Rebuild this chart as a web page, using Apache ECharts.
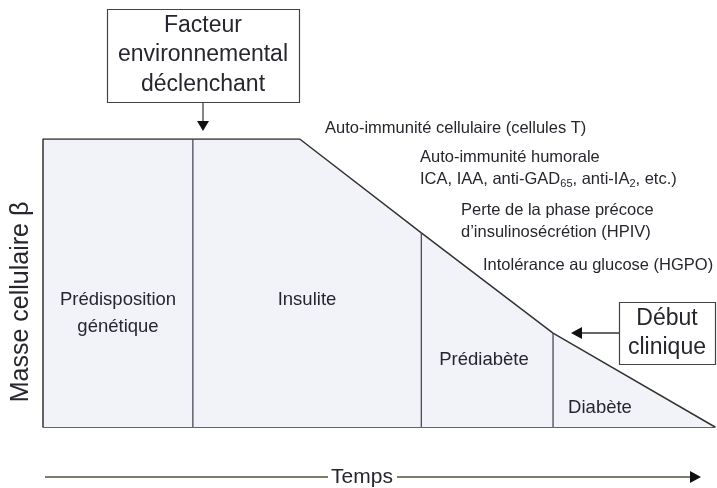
<!DOCTYPE html>
<html>
<head>
<meta charset="utf-8">
<script src="https://cdn.jsdelivr.net/npm/echarts@6/dist/echarts.min.js"></script>
<style>
  html, body { margin: 0; padding: 0; background: #fff; }
  #chart { width: 717px; height: 488px; }
</style>
</head>
<body>
<div id="chart"></div>
<script>
// time axis (arbitrary units 0..100) and beta-cell mass (% of initial)
const timePoints = [0, 22.3, 38.2, 56.3, 75.9, 100];
const betaMass = [100, 100, 100, 67.4, 32.6, 0];
// indices in timePoints where a stage starts
const stageStartIdx = [1, 3, 4];
const stageNames = ['Prédisposition\ngénétique', 'Insulite', 'Prédiabète', 'Diabète'];

const annotations = [
  'Auto-immunité cellulaire (cellules T)',
  'Auto-immunité humorale',
  'ICA, IAA, anti-GAD{sub|65}, anti-IA{sub|2}, etc.)',
  'Perte de la phase précoce',
  'd’insulinosécrétion (HPIV)',
  'Intolérance au glucose (HGPO)'
];

const FONT = '"Liberation Sans", Arial, Helvetica, sans-serif';
const INK = '#26262e';

const chart = echarts.init(document.getElementById('chart'));

const outline = [[timePoints[0], 0]].concat(timePoints.map((t, i) => [t, betaMass[i]]));

const dividers = stageStartIdx.map(i => ({
  type: 'line',
  silent: true,
  symbol: 'none',
  data: [[timePoints[i], 0], [timePoints[i], betaMass[i]]],
  lineStyle: { color: '#4a4a5a', width: 1.3 },
  z: 3
}));

// text positions (pixels)
const stagePos = [[118, 313], [307, 300], [484, 360], [600, 408]];
const notePos = [[325, 128], [420, 157], [420, 179], [461, 210], [461, 232], [483, 265]];

const txt = (text, x, y, size, align, extra) => ({
  type: 'text',
  z: 100,
  x: x, y: y,
  style: Object.assign({
    text: text,
    fill: INK,
    fontFamily: FONT,
    fontSize: size,
    align: align || 'center',
    verticalAlign: 'middle'
  }, extra || {})
});

const graphics = [
  // trigger box + arrow
  { type: 'rect', z: 100, shape: { x: 107.5, y: 9.5, width: 192, height: 93 },
    style: { fill: '#fff', stroke: '#444', lineWidth: 1.2 } },
  txt('Facteur\nenvironnemental\ndéclenchant', 203, 55, 23, 'center', { lineHeight: 29.5 }),
  { type: 'line', z: 100, shape: { x1: 203, y1: 102, x2: 203, y2: 122 }, style: { stroke: '#444', lineWidth: 1.3 } },
  { type: 'polygon', z: 100, shape: { points: [[197, 121], [209, 121], [203, 131]] }, style: { fill: '#111' } },

  // clinical onset box + arrow
  { type: 'rect', z: 100, shape: { x: 619.5, y: 302.5, width: 96, height: 62 },
    style: { fill: '#fff', stroke: '#444', lineWidth: 1.2 } },
  txt('Début\nclinique', 667, 333, 23, 'center', { lineHeight: 29 }),
  { type: 'line', z: 100, shape: { x1: 619, y1: 333, x2: 580, y2: 333 }, style: { stroke: '#333', lineWidth: 1.3 } },
  { type: 'polygon', z: 100, shape: { points: [[582, 327], [582, 339], [571, 333]] }, style: { fill: '#111' } },

  // time arrow
  { type: 'line', z: 100, shape: { x1: 45, y1: 477, x2: 328, y2: 477 }, style: { stroke: '#7c7c68', lineWidth: 2 } },
  { type: 'line', z: 100, shape: { x1: 397, y1: 477, x2: 692, y2: 477 }, style: { stroke: '#7c7c68', lineWidth: 2 } },
  { type: 'polygon', z: 100, shape: { points: [[690, 471], [690, 483], [701, 477]] }, style: { fill: '#111' } },
  txt('Temps', 362, 477, 21),

  // y label
  Object.assign(txt('Masse cellulaire β', 0, 0, 25), { x: 21, y: 302, rotation: Math.PI / 2 })
];

stageNames.forEach((s, i) => {
  graphics.push(txt(s, stagePos[i][0], stagePos[i][1], 18.5, 'center', { lineHeight: 27 }));
});
annotations.forEach((a, i) => {
  graphics.push(txt(a, notePos[i][0], notePos[i][1], 16.5, 'left', {
    rich: { sub: { fontSize: 11, fontFamily: FONT, fill: INK, padding: [9, 0, 0, 0] } }
  }));
});

chart.setOption({
  animation: false,
  backgroundColor: '#fff',
  grid: { left: 43, right: 2, top: 139, bottom: 61 },
  xAxis: {
    type: 'value', min: 0, max: 100,
    axisLine: { show: true, lineStyle: { color: '#333', width: 1.5 } },
    axisTick: { show: false }, axisLabel: { show: false }, splitLine: { show: false }
  },
  yAxis: {
    type: 'value', min: 0, max: 100,
    axisLine: { show: false }, axisTick: { show: false },
    axisLabel: { show: false }, splitLine: { show: false }
  },
  series: [
    {
      type: 'line',
      silent: true,
      symbol: 'none',
      data: outline,
      lineStyle: { color: '#333', width: 1.5 },
      areaStyle: { color: '#f2f3f9', opacity: 1 },
      z: 2
    }
  ].concat(dividers),
  graphic: graphics
});
</script>
</body>
</html>
